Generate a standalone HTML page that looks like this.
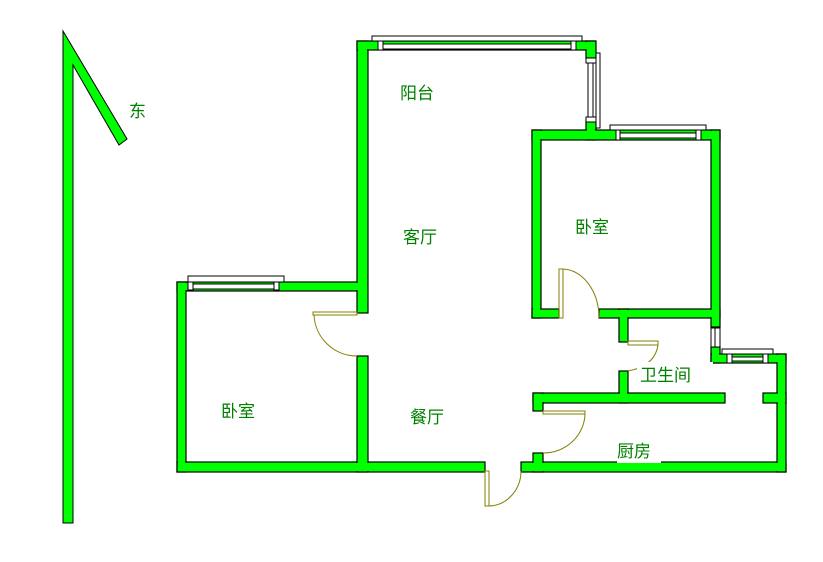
<!DOCTYPE html>
<html><head><meta charset="utf-8"><style>
html,body{margin:0;padding:0;background:#fff;}
svg{display:block;}
text{font-family:"Liberation Sans","Noto Sans CJK SC",sans-serif;font-size:17px;fill:#008000;}
</style></head><body>
<svg width="823" height="562" viewBox="0 0 823 562" xmlns="http://www.w3.org/2000/svg">
<!-- compass -->
<polygon points="63,31 127,139 119,145 73,65 73,523 63,523" fill="#00ff00" stroke="#000" stroke-width="1"/>
<text x="129" y="117">东</text>
<g fill="#00ff00" stroke="#000" stroke-width="1.2">
<!-- left bedroom -->
<rect x="177" y="282" width="190" height="9"/>
<rect x="177" y="282" width="9" height="190"/>
<rect x="177" y="462" width="308" height="10"/>
<rect x="521" y="462" width="265" height="10"/>
<rect x="357" y="41" width="11" height="272"/>
<rect x="357" y="356" width="11" height="116"/>
<!-- balcony -->
<rect x="357" y="41" width="238" height="9"/>
<rect x="586" y="41" width="10" height="17"/>
<rect x="586" y="120" width="10" height="20"/>
<!-- bedroom right -->
<rect x="532" y="130" width="188" height="10"/>
<rect x="532" y="130" width="9" height="188"/>
<rect x="532" y="309" width="27" height="9"/>
<rect x="599" y="309" width="121" height="9"/>
<rect x="711" y="130" width="9" height="197"/>
<rect x="711" y="347" width="9" height="16"/>
<!-- bathroom -->
<rect x="619" y="309" width="9" height="33"/>
<rect x="619" y="371" width="9" height="32"/>
<!-- kitchen -->
<rect x="533" y="393" width="192" height="10"/>
<rect x="533" y="393" width="10" height="18"/>
<rect x="533" y="453" width="10" height="19"/>
<rect x="711" y="354" width="75" height="9"/>
<rect x="777" y="354" width="9" height="118"/>
<rect x="763" y="393" width="23" height="10"/>
</g>
<!-- cover inner seams -->
<g fill="#00ff00">
<rect x="178" y="283" width="188" height="7"/>
<rect x="178" y="283" width="7" height="188"/>
<rect x="178" y="463" width="306" height="8"/>
<rect x="522" y="463" width="263" height="8"/>
<rect x="358" y="42" width="9" height="270"/>
<rect x="358" y="357" width="9" height="114"/>
<rect x="358" y="42" width="236" height="7"/>
<rect x="587" y="42" width="8" height="15"/>
<rect x="587" y="121" width="8" height="18"/>
<rect x="533" y="131" width="186" height="8"/>
<rect x="533" y="131" width="7" height="186"/>
<rect x="533" y="310" width="25" height="7"/>
<rect x="600" y="310" width="119" height="7"/>
<rect x="712" y="131" width="7" height="195"/>
<rect x="712" y="348" width="7" height="14"/>
<rect x="620" y="310" width="7" height="31"/>
<rect x="620" y="372" width="7" height="30"/>
<rect x="534" y="394" width="190" height="8"/>
<rect x="534" y="394" width="8" height="16"/>
<rect x="534" y="454" width="8" height="17"/>
<rect x="712" y="355" width="73" height="7"/>
<rect x="778" y="355" width="7" height="116"/>
<rect x="764" y="394" width="21" height="8"/>
</g>
<!-- windows -->
<g fill="#fff" stroke="#000" stroke-width="1">
<rect x="188" y="276" width="96" height="6"/>
<rect x="188" y="282" width="5" height="8"/><rect x="274" y="282" width="5" height="8"/>
<rect x="193" y="284" width="81" height="5"/>
<rect x="372" y="36" width="210" height="5"/>
<rect x="378" y="41" width="5" height="9"/><rect x="571" y="41" width="5" height="9"/>
<rect x="383" y="44" width="188" height="5"/>
<rect x="596" y="53" width="4" height="75"/>
<rect x="586" y="58" width="10" height="5"/><rect x="586" y="117" width="10" height="5"/>
<rect x="588" y="63" width="5" height="54"/>
<rect x="610" y="125" width="96" height="5"/>
<rect x="616" y="130" width="4" height="10"/><rect x="696" y="130" width="5" height="10"/>
<rect x="620" y="133" width="76" height="5"/>
<rect x="711" y="328" width="9" height="19"/>
<line x1="715" y1="328" x2="715" y2="347"/>
<rect x="722" y="349" width="51" height="5"/>
<rect x="727" y="354" width="5" height="9"/><rect x="763" y="354" width="5" height="9"/>
<rect x="732" y="357" width="31" height="4"/>
</g>
<!-- doors -->
<g fill="none" stroke="#808000" stroke-width="1">
<rect x="313" y="312" width="44" height="3"/>
<path d="M314,315 A43,43 0 0 0 357,356"/>
<rect x="559" y="269" width="4" height="49"/>
<path d="M563,269 A37,49 0 0 1 599,318"/>
<rect x="628" y="341" width="30" height="4"/>
<path d="M658,345 Q655,366 628,371"/>
<rect x="543" y="411" width="42" height="3"/>
<path d="M585,414 A42,40 0 0 1 543,453"/>
<rect x="485" y="471" width="4" height="35"/>
<path d="M489,506 A33,35 0 0 0 521,471"/>
</g>
<!-- labels -->
<rect x="637" y="362" width="76" height="28" fill="#fff"/>
<rect x="617" y="440" width="44" height="23" fill="#fff"/>
<text x="400" y="99">阳台</text>
<text x="403" y="243">客厅</text>
<text x="575" y="233">卧室</text>
<text x="221" y="417">卧室</text>
<text x="410" y="423">餐厅</text>
<text x="640" y="381">卫生间</text>
<text x="617" y="457">厨房</text>
</svg>
</body></html>
